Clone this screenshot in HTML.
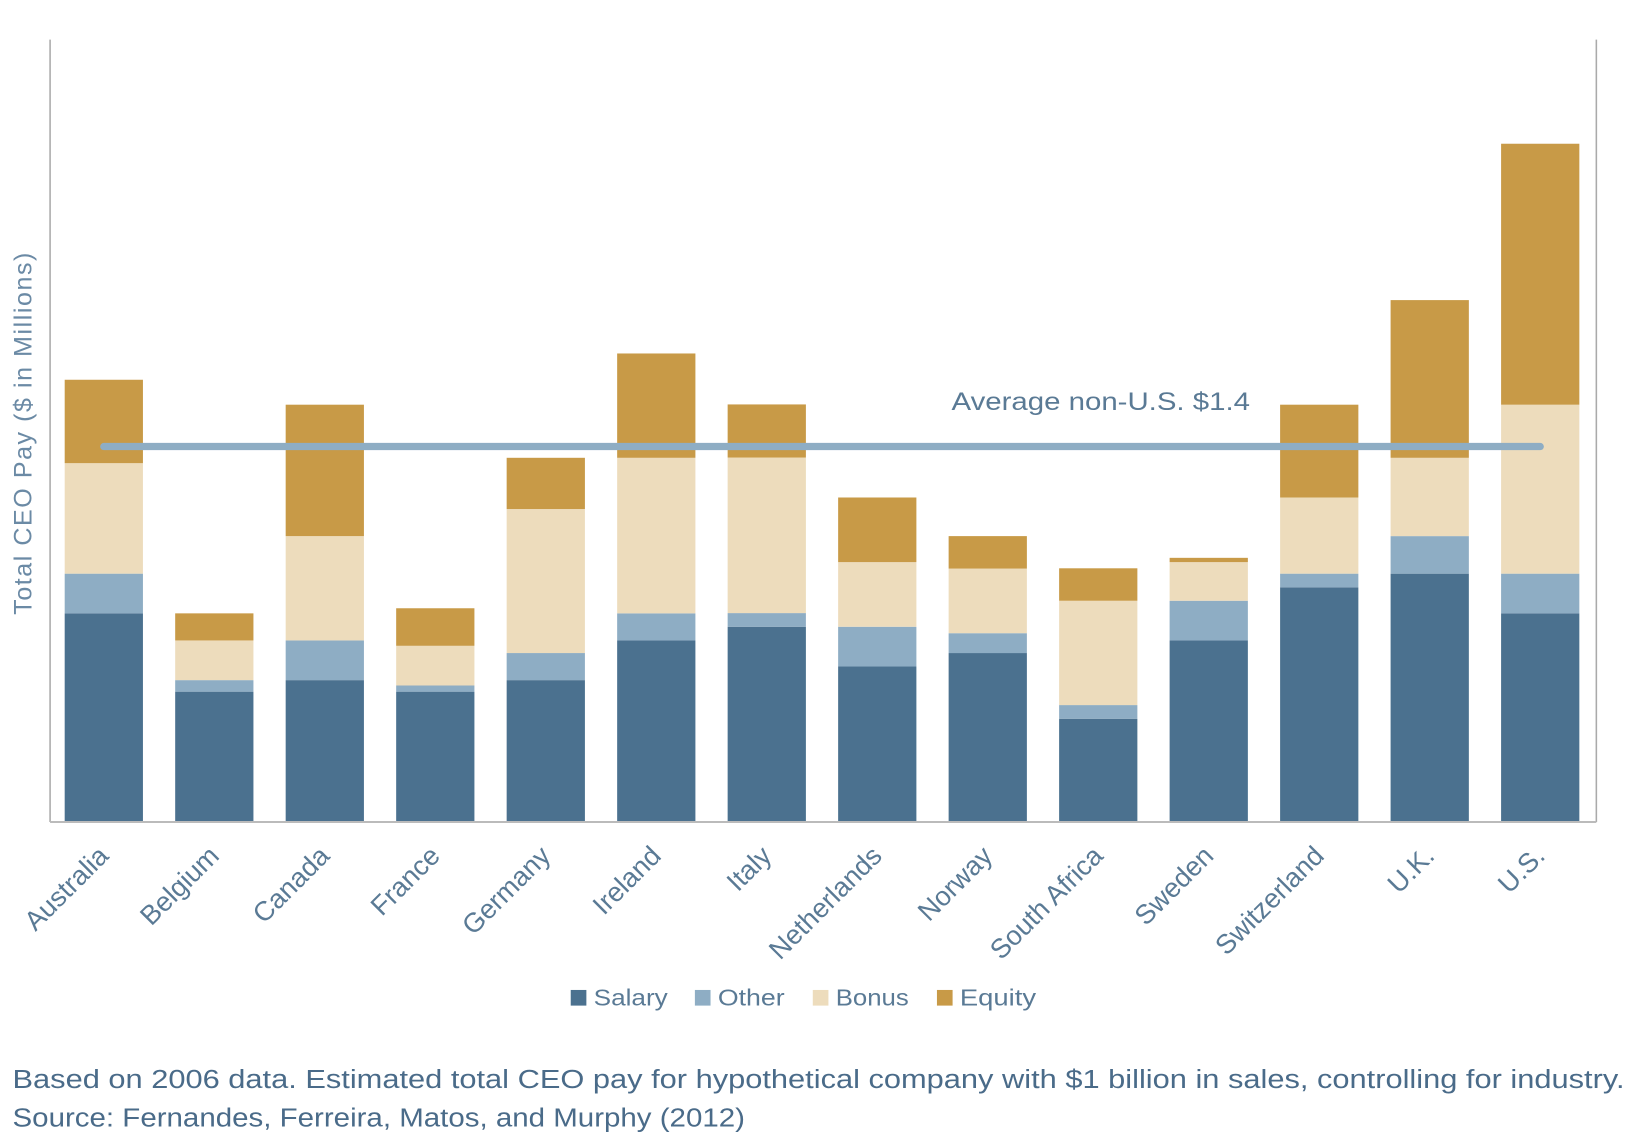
<!DOCTYPE html>
<html><head><meta charset="utf-8">
<style>
html,body{margin:0;padding:0;background:#fff;}
svg{display:block;font-family:"Liberation Sans",sans-serif;}
</style></head>
<body>
<svg id="chart" width="1636" height="1136" viewBox="0 0 1568 1089" preserveAspectRatio="none" xmlns="http://www.w3.org/2000/svg">
  <g id="bars"></g>
  <line x1="48" y1="38" x2="48" y2="788" stroke="#aaa" stroke-width="1.5"/>
  <line x1="1530" y1="38" x2="1530" y2="788" stroke="#aaa" stroke-width="1.5"/>
  <line x1="48" y1="788" x2="1530" y2="788" stroke="#bbb" stroke-width="2"/>
  <g id="avg"></g>
  <g id="xlabels"></g>
  <text transform="translate(30,415) rotate(-90)" text-anchor="middle" font-size="24" fill="#6b8aa5" letter-spacing="1.5">Total CEO Pay ($ in Millions)</text>
  <g font-size="22" fill="#5a7a95">
    <rect x="547" y="949" width="15" height="15" fill="#4b718f"/>
    <text x="569" y="964" textLength="71" lengthAdjust="spacingAndGlyphs">Salary</text>
    <rect x="666" y="949" width="15" height="15" fill="#8eadc4"/>
    <text x="688" y="964" textLength="64" lengthAdjust="spacingAndGlyphs">Other</text>
    <rect x="779" y="949" width="15" height="15" fill="#eddcbc"/>
    <text x="801" y="964" textLength="70" lengthAdjust="spacingAndGlyphs">Bonus</text>
    <rect x="898" y="949" width="15" height="15" fill="#c89a47"/>
    <text x="920" y="964" textLength="73" lengthAdjust="spacingAndGlyphs">Equity</text>
  </g>
  <text x="12" y="1043" font-size="25" fill="#4a6b89" textLength="1545" lengthAdjust="spacingAndGlyphs">Based on 2006 data. Estimated total CEO pay for hypothetical company with $1 billion in sales, controlling for industry.</text>
  <text x="12" y="1080" font-size="25" fill="#4a6b89" textLength="702" lengthAdjust="spacingAndGlyphs">Source: Fernandes, Ferreira, Matos, and Murphy (2012)</text>
</svg>
<script>
const categories = ["Australia","Belgium","Canada","France","Germany","Ireland","Italy","Netherlands","Norway","South Africa","Sweden","Switzerland","U.K.","U.S."];
const salary = [0.778,0.486,0.529,0.486,0.529,0.677,0.728,0.580,0.630,0.385,0.677,0.875,0.926,0.778];
const other  = [0.148,0.043,0.148,0.023,0.101,0.101,0.051,0.148,0.074,0.051,0.148,0.051,0.140,0.148];
const bonus  = [0.412,0.148,0.389,0.148,0.537,0.580,0.580,0.241,0.241,0.389,0.144,0.284,0.292,0.630];
const equity = [0.311,0.101,0.490,0.140,0.191,0.389,0.198,0.241,0.121,0.121,0.016,0.346,0.588,0.973];
const averageNonUS = [1.4];
const averageLabel = ["Average non-U.S.  $1.4"];

const NS = "http://www.w3.org/2000/svg";
const baseY = 788, pxPerUnit = 257.1;
function yScale(v){ return baseY - v * pxPerUnit; }
function xCenter(i){ return 99.5 + i * 105.9; }
const barW = 75;
const series = [
  {name:"salary", vals:salary, color:"#4b718f"},
  {name:"other", vals:other, color:"#8eadc4"},
  {name:"bonus", vals:bonus, color:"#eddcbc"},
  {name:"equity", vals:equity, color:"#c89a47"}
];
const barsG = document.getElementById("bars");
categories.forEach((c, i) => {
  let cum = 0;
  series.forEach(s => {
    const v = s.vals[i];
    const r = document.createElementNS(NS, "rect");
    
    
    const y0 = yScale(cum), y1 = yScale(cum + v);
    r.setAttribute("x", xCenter(i) - barW / 2);
    r.setAttribute("y", y1);
    r.setAttribute("width", barW);
    r.setAttribute("height", Math.max(0, y0 - y1));
    r.setAttribute("fill", s.color);
    barsG.appendChild(r);
    cum += v;
  });
  const t = document.createElementNS(NS, "text");
  
  
  const lx = xCenter(i) + 6, ly = 822;
  t.setAttribute("transform", "translate(" + lx + "," + ly + ") rotate(-45)");
  t.setAttribute("text-anchor", "end");
  t.setAttribute("font-size", "26");
  t.setAttribute("fill", "#5a7a95");
  t.textContent = c;
  document.getElementById("xlabels").appendChild(t);
});
const avgG = document.getElementById("avg");
const ay = yScale(averageNonUS[0]);
const line = document.createElementNS(NS, "line");


line.setAttribute("x1", xCenter(0)); line.setAttribute("x2", xCenter(categories.length - 1));
line.setAttribute("y1", ay); line.setAttribute("y2", ay);
line.setAttribute("stroke", "#8eadc4"); line.setAttribute("stroke-width", "7");
line.setAttribute("stroke-linecap", "round");
avgG.appendChild(line);
const lab = document.createElementNS(NS, "text");


lab.setAttribute("x", 912); lab.setAttribute("y", ay - 35);
lab.setAttribute("font-size", "24"); lab.setAttribute("fill", "#5a7a95");
lab.setAttribute("xml:space", "preserve");
lab.setAttribute("textLength", "286");
lab.setAttribute("lengthAdjust", "spacingAndGlyphs");
lab.textContent = averageLabel[0];
avgG.appendChild(lab);
</script>
</body></html>
